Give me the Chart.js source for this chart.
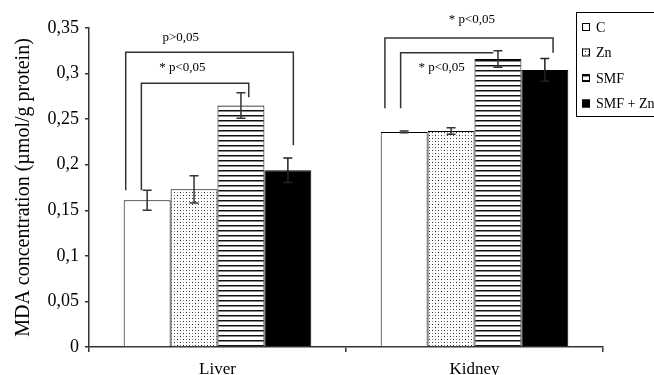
<!DOCTYPE html>
<html>
<head>
<meta charset="utf-8">
<script src="https://cdn.jsdelivr.net/npm/chart.js@4/dist/chart.umd.min.js"></script>
<style>
  html, body { margin: 0; padding: 0; background: #fff; }
  #wrap { width: 654px; height: 375px; position: relative; }
</style>
</head>
<body>
<div id="wrap"><canvas id="myChart" width="654" height="375"></canvas></div>
<script>
// data
const categories = ["Liver", "Kidney"];
const seriesNames = ["C", "Zn", "SMF", "SMF + Zn"];
const valuesC = [0.161, 0.236];
const valuesZn = [0.173, 0.237];
const valuesSMF = [0.265, 0.316];
const valuesSMFZn = [0.194, 0.304];
const errC = [0.011, 0.001];
const errZn = [0.015, 0.0035];
const errSMF = [0.014, 0.009];
const errSMFZn = [0.0135, 0.0125];
const yTicks = [0, 0.05, 0.1, 0.15, 0.2, 0.25, 0.3, 0.35];

// significance brackets: category, first/last bar, levels in data units
const brackets = [
  { cat: 0, from: 0, to: 3, top: 0.3235, leftEnd: 0.172, rightEnd: 0.2213, label: "p>0,05", labelY: 0.3396, dxL: -0.457, dxR: 0.117, labelDx: 55 },
  { cat: 0, from: 0, to: 2, top: 0.2895, leftEnd: 0.172, rightEnd: 0.274, label: "* p<0,05", labelY: 0.307, dxL: -0.123, dxR: 0.166, labelDx: 41 },
  { cat: 1, from: 0, to: 3, top: 0.339, leftEnd: 0.262, rightEnd: 0.3228, label: "* p<0,05", labelY: 0.359, dxL: -0.41, dxR: 0.175, labelDx: 87 },
  { cat: 1, from: 0, to: 2, top: 0.3228, leftEnd: 0.262, rightEnd: 0.3228, label: "* p<0,05", labelY: 0.307, dxL: -0.075, dxR: -0.1, labelDx: 41 },
];

const INK = "#333";
const FONT = "'Liberation Serif', 'Times New Roman', serif";

function makePattern(w, h, draw) {
  const c = document.createElement("canvas");
  c.width = w;
  c.height = h;
  const g = c.getContext("2d");
  g.fillStyle = "#fff";
  g.fillRect(0, 0, w, h);
  draw(g);
  return document.getElementById("myChart").getContext("2d").createPattern(c, "repeat");
}

const dots = makePattern(6, 6, (g) => {
  g.fillStyle = "#222";
  g.fillRect(0, 0, 1, 1);
  g.fillRect(3, 3, 1, 1);
  g.fillStyle = "#888";
  g.fillRect(3, 0, 1, 1);
  g.fillRect(0, 3, 1, 1);
});
const stripes = makePattern(1, 5, (g) => {
  g.fillStyle = "#111";
  g.fillRect(0, 0, 1, 1);
  g.fillStyle = "#888";
  g.fillRect(0, 1, 1, 1);
});

const fills = ["#fff", dots, stripes, "#000"];
const allValues = [valuesC, valuesZn, valuesSMF, valuesSMFZn];
const allErrors = [errC, errZn, errSMF, errSMFZn];

const extras = {
  id: "extras",
  afterDatasetsDraw(chart) {
    const ctx = chart.ctx;
    const y = chart.scales.y;
    ctx.save();
    ctx.lineWidth = 1.5;

    // error bars
    allErrors.forEach((errs, d) => {
      const meta = chart.getDatasetMeta(d);
      ctx.strokeStyle = d === 3 ? "#222" : INK;
      meta.data.forEach((bar, i) => {
        const v = allValues[d][i];
        const y1 = y.getPixelForValue(v + errs[i]);
        const y2 = y.getPixelForValue(v - errs[i]);
        ctx.beginPath();
        ctx.moveTo(bar.x, y1);
        ctx.lineTo(bar.x, y2);
        ctx.moveTo(bar.x - 4.5, y1);
        ctx.lineTo(bar.x + 4.5, y1);
        ctx.moveTo(bar.x - 4.5, y2);
        ctx.lineTo(bar.x + 4.5, y2);
        ctx.stroke();
      });
    });

    // brackets
    ctx.strokeStyle = INK;
    ctx.font = "13px " + FONT;
    ctx.fillStyle = "#000";
    ctx.textBaseline = "middle";
    ctx.textAlign = "center";
    brackets.forEach((b) => {
      const a = chart.getDatasetMeta(b.from).data[b.cat];
      const c = chart.getDatasetMeta(b.to).data[b.cat];
      const xl = a.x + b.dxL * a.width;
      const xr = c.x + b.dxR * c.width;
      const yt = y.getPixelForValue(b.top);
      ctx.beginPath();
      ctx.moveTo(xl, y.getPixelForValue(b.leftEnd));
      ctx.lineTo(xl, yt);
      ctx.lineTo(xr, yt);
      ctx.lineTo(xr, y.getPixelForValue(b.rightEnd));
      ctx.stroke();
      ctx.fillText(b.label, xl + b.labelDx, y.getPixelForValue(b.labelY));
    });
    ctx.restore();
  },
  afterDraw(chart) {
    const ctx = chart.ctx;
    ctx.save();
    ctx.fillStyle = "#fff";
    ctx.fillRect(576.5, 12.5, 90, 104);
    ctx.strokeStyle = "#000";
    ctx.lineWidth = 1;
    ctx.strokeRect(576.5, 12.5, 90, 104);
    ctx.font = "14px " + FONT;
    ctx.textBaseline = "middle";
    ctx.textAlign = "left";
    seriesNames.forEach((name, i) => {
      const cy = 27 + i * 25.5;
      ctx.fillStyle = fills[i];
      ctx.fillRect(582, cy - 4, 8, 8);
      ctx.strokeStyle = "#000";
      ctx.strokeRect(582.5, cy - 3.5, 7, 7);
      ctx.fillStyle = "#000";
      ctx.fillText(name, 596, cy + 1);
    });
    ctx.restore();
  },
};

const ctx = document.getElementById("myChart").getContext("2d");
const myChart = new Chart(ctx, {
  type: "bar",
  data: {
    labels: categories,
    datasets: seriesNames.map((name, i) => ({
      label: name,
      data: allValues[i],
      backgroundColor: fills[i],
      borderColor: "#000",
      borderWidth: 1,
      categoryPercentage: 0.73,
      barPercentage: 1.0,
    })),
  },
  options: {
    responsive: false,
    animation: false,
    layout: { padding: { top: 28, right: 51, left: 0, bottom: 0 } },
    plugins: {
      legend: { display: false },
      tooltip: { enabled: false },
    },
    scales: {
      x: {
        afterFit: (s) => { s.height = 28; },
        grid: { drawOnChartArea: false, drawTicks: true, tickLength: 5, color: INK, lineWidth: 1.5 },
        border: { color: INK, width: 1.5 },
        ticks: { color: "#000", font: { family: FONT, size: 17 }, padding: 7 },
      },
      y: {
        min: 0,
        max: 0.35,
        afterFit: (s) => { s.width = 89; },
        afterBuildTicks: (s) => { s.ticks = yTicks.map((v) => ({ value: v })); },
        grid: { drawOnChartArea: false, drawTicks: true, tickLength: 4, color: INK, lineWidth: 1.5 },
        border: { color: INK, width: 1.5 },
        ticks: {
          color: "#000",
          font: { family: FONT, size: 18 },
          padding: 6,
          callback: (v) => (v === 0 ? "0" : String(+v.toFixed(2)).replace(".", ",")),
        },
        title: {
          display: true,
          text: "MDA concentration (µmol/g protein)",
          color: "#000",
          font: { family: FONT, size: 20 },
          padding: { top: 12, bottom: 0 },
        },
      },
    },
  },
  plugins: [extras],
});
</script>
</body>
</html>
